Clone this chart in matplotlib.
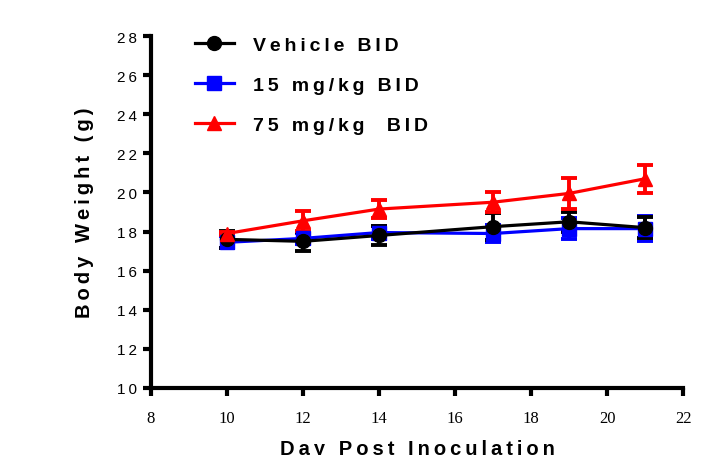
import numpy as np
import matplotlib
matplotlib.use("Agg")
import matplotlib.pyplot as plt

days = [10, 12, 14, 17, 19, 21]

vehicle = [17.6, 17.5, 17.8, 18.25, 18.5, 18.2]
vehicle_err = [0.45, 0.5, 0.5, 0.7, 0.5, 0.55]

dose15 = [17.45, 17.65, 17.95, 17.9, 18.15, 18.15]
dose15_err = [0.3, 0.3, 0.35, 0.45, 0.55, 0.65]

dose75 = [17.9, 18.55, 19.15, 19.5, 19.95, 20.7]
dose75_err = [0.1, 0.5, 0.45, 0.5, 0.8, 0.72]

labels = ["Vehicle BID", "15 mg/kg BID", "75 mg/kg  BID"]
x_ticks = [8, 10, 12, 14, 16, 18, 20, 22]
y_ticks = [10, 12, 14, 16, 18, 20, 22, 24, 26, 28]

SANS = ["Liberation Sans", "DejaVu Sans"]


def spaced(s, gap="\u2009"):
    # fake letter spacing
    return gap.join(s)


fig = plt.figure(figsize=(7.18, 4.56), dpi=100)
ax = fig.add_axes([151/718, 1-389/456, 532/718, 352/456])

kw = dict(linewidth=2.3, elinewidth=2.8, capsize=5.5, capthick=2.8, markersize=10)
h2 = ax.errorbar(days, dose15, yerr=dose15_err, color="#0000ff", marker="s", **kw)
h1 = ax.errorbar(days, vehicle, yerr=vehicle_err, color="black", marker="o", **kw)
h3 = ax.errorbar(days, dose75, yerr=dose75_err, color="#ff0000", marker="^", **kw)

ax.set_xlim(8, 22)
ax.set_ylim(10, 28)
ax.set_xticks(x_ticks)
ax.set_yticks(y_ticks)
ax.set_xticklabels([str(t) for t in x_ticks], family=["Liberation Serif", "DejaVu Serif"], fontsize=12)
ax.set_yticklabels([spaced(str(t)) for t in y_ticks], family=SANS, fontsize=11)

for side in ["top", "right"]:
    ax.spines[side].set_visible(False)
for side in ["left", "bottom"]:
    ax.spines[side].set_linewidth(3)
ax.tick_params(axis="both", direction="out", length=6, width=3)
ax.tick_params(axis="x", pad=10)
ax.tick_params(axis="y", pad=4)

ax.set_ylabel(spaced("Body Weight (g)"), family=SANS, fontsize=14.5, fontweight="bold", labelpad=17)
ax.set_xlabel(spaced("Day Post Inoculation"), family=SANS, fontsize=14.5, fontweight="bold", labelpad=9)

leg = ax.legend([h1[0], h2[0], h3[0]], [spaced(l) for l in labels],
                loc="upper left", bbox_to_anchor=(195/718, 1-37/456),
                bbox_transform=fig.transFigure, frameon=False,
                borderpad=0, borderaxespad=0, handlelength=2.0,
                handletextpad=1.0, labelspacing=1.15,
                prop={"family": SANS, "weight": "bold", "size": 14})

fig.savefig("out.png", dpi=100)
